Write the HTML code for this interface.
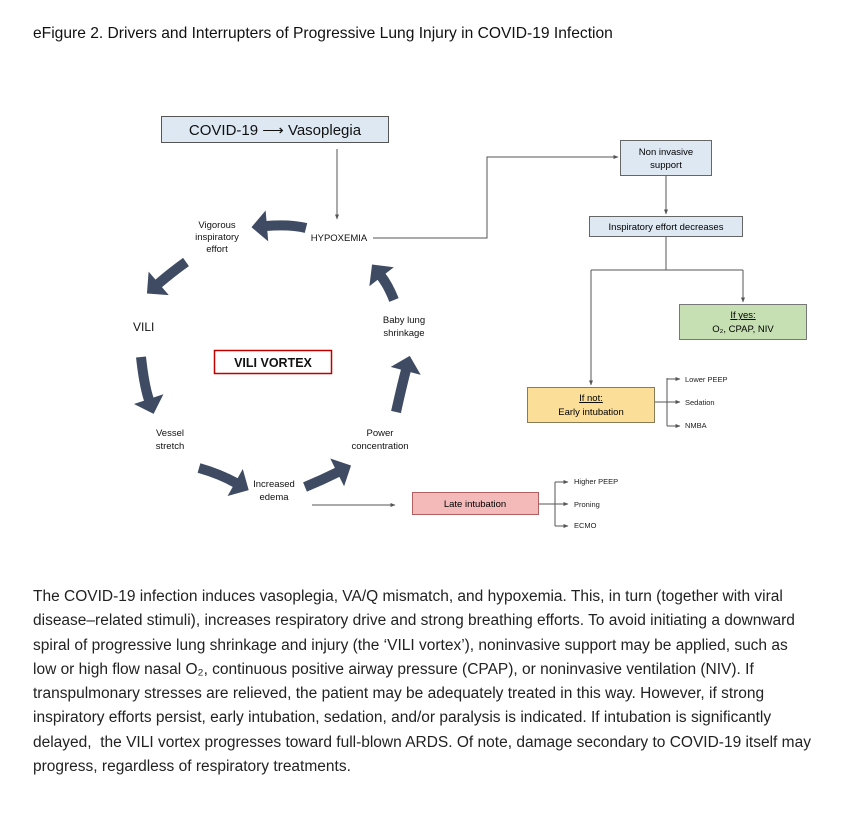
<!DOCTYPE html>
<html><head><meta charset="utf-8"><style>
body{margin:0;background:#fff;width:844px;height:820px;overflow:hidden;font-family:"Liberation Sans",sans-serif;position:relative}
.t{position:absolute;white-space:nowrap}
.p{position:absolute;left:33px;font-size:15.5px;color:#222;white-space:nowrap;line-height:24.3px;top:585px}
</style></head><body>
<div class="t" style="left:33px;top:25px;font-size:15.6px;color:#111">eFigure 2. Drivers and Interrupters of Progressive Lung Injury in COVID-19 Infection</div>
<svg width="844" height="820" style="position:absolute;left:0;top:0" font-family="Liberation Sans, sans-serif">
<defs>
<marker id="big" viewBox="0 0 5 10" markerWidth="1.6" markerHeight="3.1" refX="0.3" refY="5" orient="auto"><path d="M0,0L5,5L0,10z" fill="#3e4b62"/></marker>
<marker id="sm" viewBox="0 0 10 10" markerWidth="5" markerHeight="5" refX="9" refY="5" orient="auto" markerUnits="userSpaceOnUse"><path d="M0,1L10,5L0,9z" fill="#555"/></marker>
</defs>
<g fill="none" stroke="#3e4b62" stroke-width="10" marker-end="url(#big)">
<path d="M306,228 Q290,224 266,226"/>
<path d="M186,262 Q172,272 158,284"/>
<path d="M141,357 Q144,385 149,400"/>
<path d="M199,468 Q220,474 236,483"/>
<path d="M305,487 Q322,480 338,472"/>
<path d="M396,412 Q402,385 406,370"/>
<path d="M394,300 Q388,285 381,276"/>
</g>
<g stroke="#555" stroke-width="1" fill="none">
<path d="M337,149V219" marker-end="url(#sm)"/>
<path d="M373,238H487V157H618" marker-end="url(#sm)"/>
<path d="M666,175V214" marker-end="url(#sm)"/>
<path d="M666,236V270"/>
<path d="M591,270H743"/>
<path d="M591,270V385" marker-end="url(#sm)"/>
<path d="M743,270V302" marker-end="url(#sm)"/>
<path d="M655,402H680" marker-end="url(#sm)"/>
<path d="M667,378V426"/>
<path d="M667,379H680" marker-end="url(#sm)"/>
<path d="M667,426H680" marker-end="url(#sm)"/>
<path d="M312,505H395" marker-end="url(#sm)"/>
<path d="M539,504H568" marker-end="url(#sm)"/>
<path d="M555,482V526"/>
<path d="M555,482H568" marker-end="url(#sm)"/>
<path d="M555,526H568" marker-end="url(#sm)"/>
</g>
<rect x="161.5" y="116.5" width="227" height="26" fill="#dde8f3" stroke="#555"/>
<text x="275" y="135" font-size="15" text-anchor="middle" fill="#111">COVID-19 ⟶ Vasoplegia</text>
<rect x="214.5" y="350.5" width="117" height="23" fill="#fff" stroke="#c00000" stroke-width="1.5"/>
<text x="273" y="367" font-size="12.5" font-weight="bold" text-anchor="middle" fill="#111">VILI VORTEX</text>
<rect x="620.5" y="140.5" width="91" height="35" fill="#dde8f3" stroke="#666"/>
<text x="666" y="155" font-size="9.5" text-anchor="middle">Non invasive</text>
<text x="666" y="168" font-size="9.5" text-anchor="middle">support</text>
<rect x="589.5" y="216.5" width="153" height="20" fill="#dde8f3" stroke="#666"/>
<text x="666" y="230" font-size="9.5" text-anchor="middle">Inspiratory effort decreases</text>
<rect x="679.5" y="304.5" width="127" height="35" fill="#c6e0b4" stroke="#777"/>
<text x="743" y="318" font-size="9.5" text-anchor="middle" text-decoration="underline">If yes:</text>
<text x="743" y="332" font-size="9.5" text-anchor="middle">O₂, CPAP, NIV</text>
<rect x="527.5" y="387.5" width="127" height="35" fill="#fbdf98" stroke="#8a7a55"/>
<text x="591" y="401" font-size="9.5" text-anchor="middle" text-decoration="underline">If not:</text>
<text x="591" y="415" font-size="9.5" text-anchor="middle">Early intubation</text>
<rect x="412.5" y="492.5" width="126" height="22" fill="#f4b9b9" stroke="#b06060"/>
<text x="475" y="507" font-size="9.5" text-anchor="middle">Late intubation</text>
<g font-size="7.5" fill="#222">
<text x="685" y="382">Lower PEEP</text><text x="685" y="405">Sedation</text><text x="685" y="428">NMBA</text>
<text x="574" y="484">Higher PEEP</text><text x="574" y="507">Proning</text><text x="574" y="528">ECMO</text>
</g>
<g font-size="9.5" text-anchor="middle" fill="#111">
<text x="339" y="241">HYPOXEMIA</text>
<text x="217" y="228">Vigorous</text><text x="217" y="240">inspiratory</text><text x="217" y="252">effort</text>
<text x="170" y="436">Vessel</text><text x="170" y="449">stretch</text>
<text x="274" y="487">Increased</text><text x="274" y="500">edema</text>
<text x="380" y="436">Power</text><text x="380" y="449">concentration</text>
<text x="404" y="323">Baby lung</text><text x="404" y="336">shrinkage</text>
</g>
<text x="133" y="331" font-size="12" fill="#111">VILI</text>
</svg>
<div class="p">The COVID-19 infection induces vasoplegia, VA/Q mismatch, and hypoxemia. This, in turn (together with viral<br>disease–related stimuli), increases respiratory drive and strong breathing efforts. To avoid initiating a downward<br>spiral of progressive lung shrinkage and injury (the ‘VILI vortex’), noninvasive support may be applied, such as<br>low or high flow nasal O₂, continuous positive airway pressure (CPAP), or noninvasive ventilation (NIV). If<br>transpulmonary stresses are relieved, the patient may be adequately treated in this way. However, if strong<br>inspiratory efforts persist, early intubation, sedation, and/or paralysis is indicated. If intubation is significantly<br>delayed,&nbsp; the VILI vortex progresses toward full-blown ARDS. Of note, damage secondary to COVID-19 itself may<br>progress, regardless of respiratory treatments.</div>
</body></html>
